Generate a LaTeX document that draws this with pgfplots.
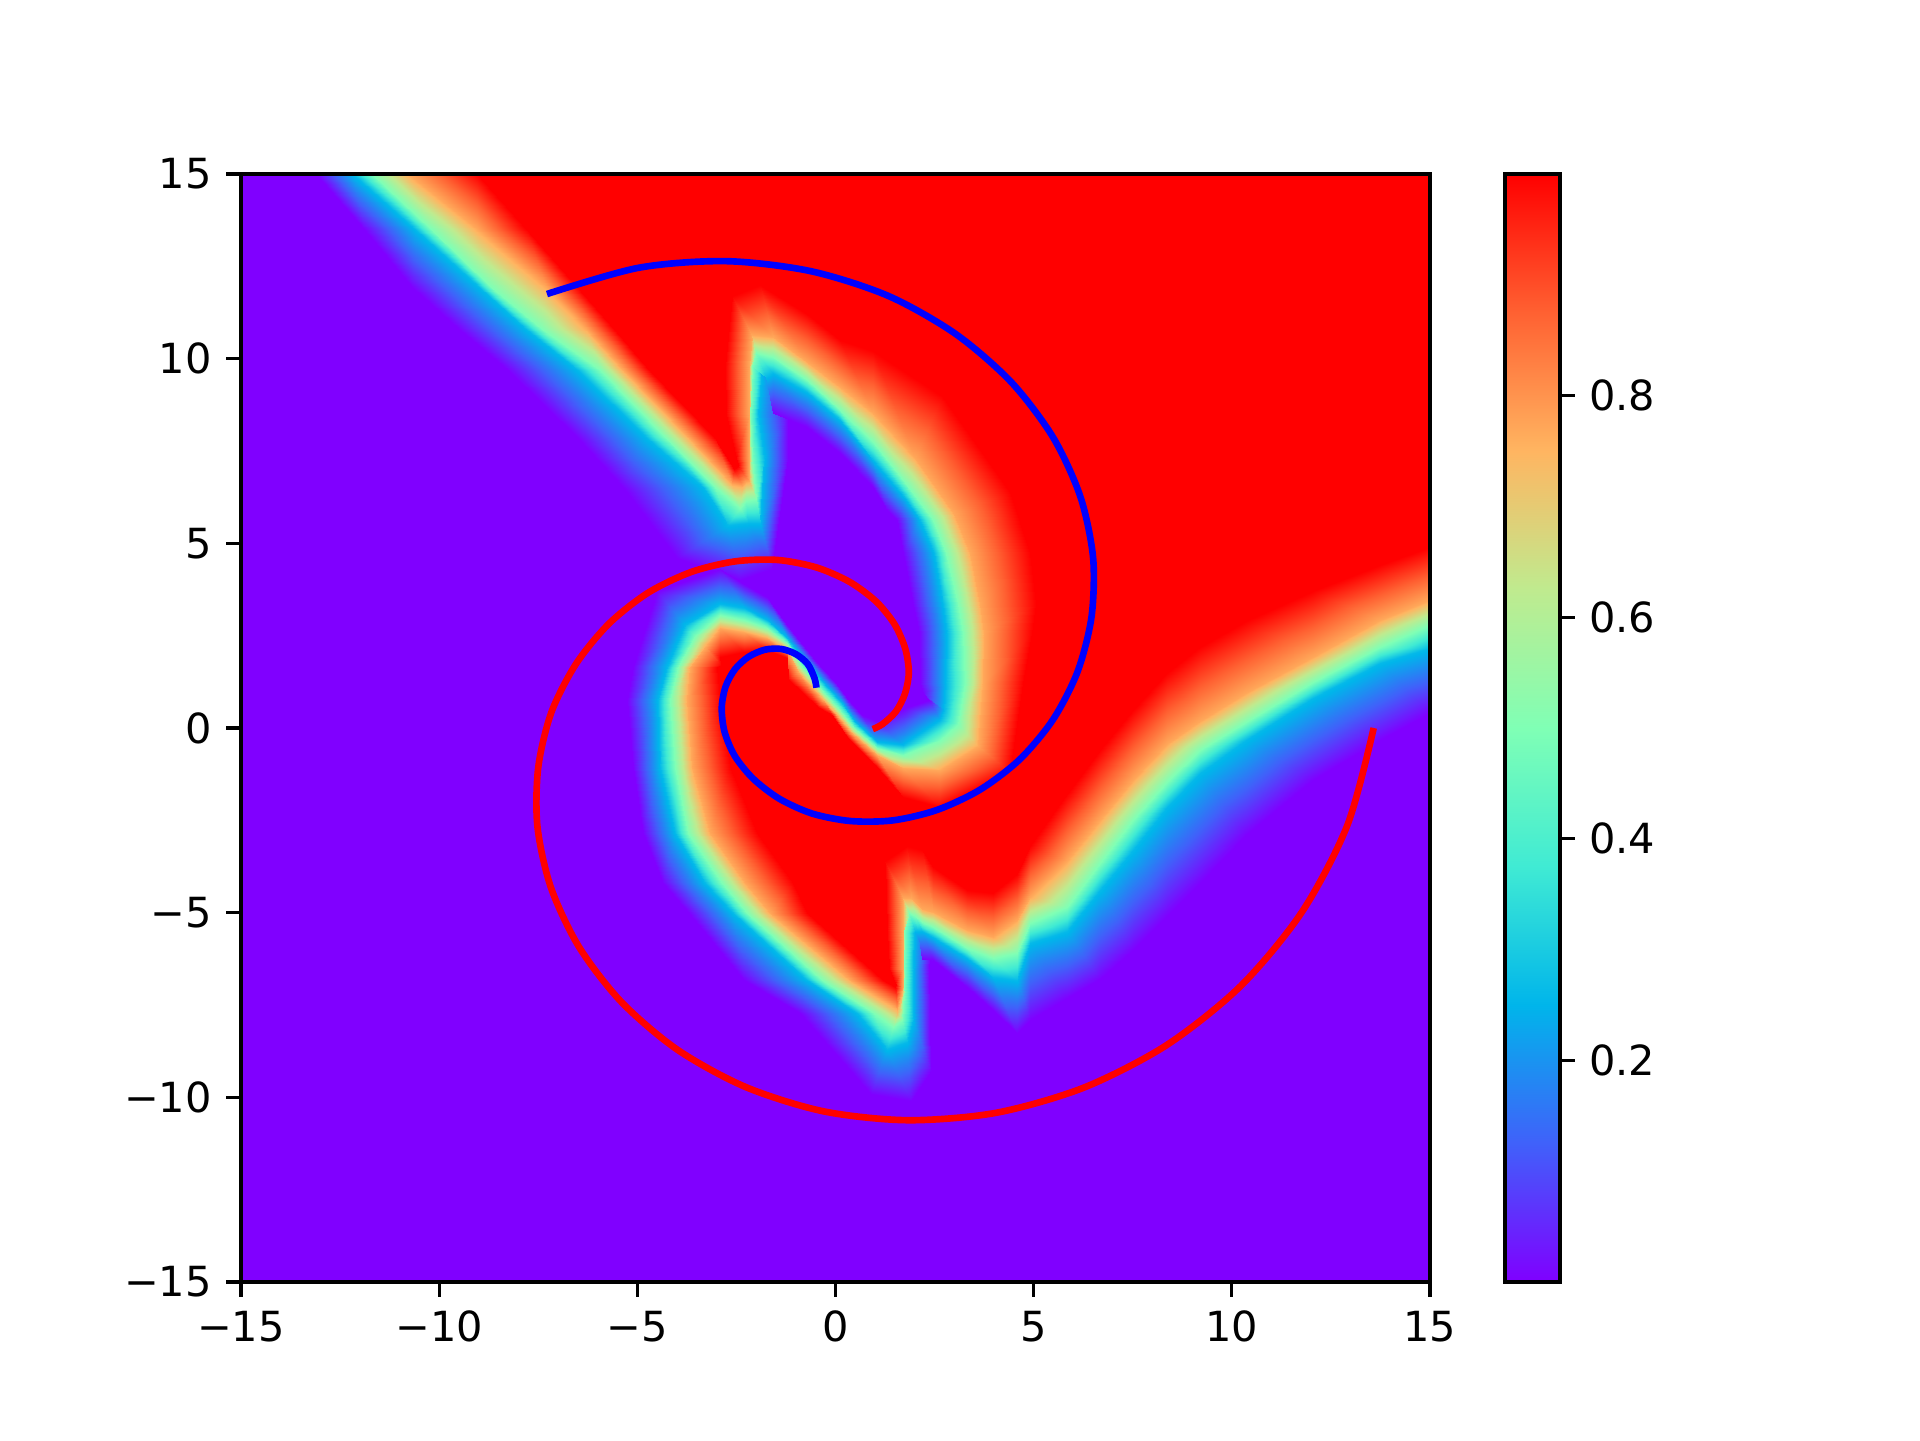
\documentclass[border=0pt]{standalone}
\usepackage{pgfplots}
\pgfplotsset{compat=1.18}
\usepackage{fontspec}
\setmainfont{DejaVu Sans}
\pgfplotsset{colormap={rb}{rgb=(.5,0,1) rgb=(.25,.38,.98) rgb=(0,.71,.92) rgb=(.25,.92,.83) rgb=(.5,1,.71) rgb=(.75,.92,.56) rgb=(1,.71,.38) rgb=(1,.38,.195) rgb=(1,0,0)}}
\definecolor{bgv}{rgb}{.5,0,1}
\begin{document}
\begin{tikzpicture}
\path[use as bounding box] (0,0) rectangle (6.4in,4.8in);
\begin{axis}[
  at={(0.8033in,0.5267in)}, anchor=south west,
  scale only axis, width=3.9633in, height=3.6933in,
  xmin=-15, xmax=15, ymin=-15, ymax=15,
  axis on top, axis background/.style={fill=bgv},
  tick align=outside, xtick pos=bottom, ytick pos=left,
  major tick length=3.5pt, tick style={black,line width=0.75pt}, axis line style={line width=0.75pt},
  xtick={-15,-10,-5,0,5,10,15}, xticklabels={−15,−10,−5,0,5,10,15},
  ytick={-15,-10,-5,0,5,10,15}, yticklabels={−15,−10,−5,0,5,10,15},
  tick label style={font=\fontsize{10}{12}\selectfont},
  point meta min=0, point meta max=1, colormap name=rb,
  colorbar,
  colorbar style={at={(1.0631,1)}, anchor=north west, width=0.1833in,
    ytick={0.2,0.4,0.6,0.8}, yticklabels={0.2,0.4,0.6,0.8},
    ytick pos=right, yticklabel pos=right, tick align=outside, major tick length=3.5pt,
    tick style={black,line width=0.75pt}, axis line style={line width=0.75pt},
    tick label style={font=\fontsize{10}{12}\selectfont}},
]
% red side, bounded by the 0.5 level
\addplot[fill=red,draw=none,forget plot] coordinates {
(-11.7,15)(-10.2,13.5)(-8.7,11.95)(-7.4,10.8)(-5.95,9.69)(-4.31,7.89)(-3.05,6.53)(-2.42,5.95)(-2.25,6.15)(-2,6.2)
(-2.1,7.3)(-2.16,8.5)(-2.1,9.8)(-2,10.15)(-1.57,10.05)(-0.73,9.42)(0.11,8.61)(0.95,7.75)(1.8,6.58)(2.45,5.63)(2.8,4.73)(3.08,3.37)(3.22,2.56)(3.27,1.21)(3.1,0.1)
(2.64,-0.33)(1.71,-0.73)(1.04,-0.55)(0.43,0.04)(0.07,0.53)(-0.24,0.89)(-0.83,1.62)(-1.23,2.29)(-1.73,2.7)(-2.32,2.92)(-2.91,3.06)
(-3.55,2.5)(-3.97,1.66)(-4.17,0.76)(-4.05,-1.05)(-3.71,-2.85)(-2.87,-4.2)(-2.24,-5.02)(-0.35,-6.82)(0.96,-7.73)(1.45,-8.1)(1.68,-7.9)
(1.73,-7.2)(1.73,-6.5)(1.74,-5.5)(1.85,-5)(2,-5.1)(2.18,-5.25)(2.47,-5.38)(3.31,-5.97)(3.98,-6.24)(4.57,-6.1)(4.91,-5.29)(5.83,-4.84)
(6.67,-3.66)(7.51,-2.49)(8.36,-1.45)(9.2,-0.6)(10.37,0.17)(12.05,1.25)(13.74,2.2)(15,2.79)(15,15)};
% band across the boundary: each line is one cross-section, values 0, .26, .5, .77, 1
\addplot[surf,shader=interp,mesh/cols=5,point meta=explicit,forget plot] coordinates {
(-13.1,15)[0] (-12.18,15)[.26] (-11.7,15)[.5] (-10.78,15)[.77] (-9.04,15)[1]
(-11.9,13.5)[0] (-10.62,13.5)[.26] (-10.2,13.5)[.5] (-9.05,13.5)[.77] (-7.8,13.5)[1]
(-10.68,11.95)[0] (-9,11.95)[.26] (-8.7,11.95)[.5] (-7.3,11.95)[.77] (-6.53,11.95)[1]
(-9.5,10.8)[0] (-7.8,10.8)[.26] (-7.4,10.8)[.5] (-6.3,10.8)[.77] (-5.6,10.8)[1]
(-8.27,9.69)[0] (-6.5,9.69)[.26] (-5.95,9.69)[.5] (-5.37,9.69)[.77] (-4.7,9.69)[1]
(-6.53,7.89)[0] (-4.77,7.89)[.26] (-4.31,7.89)[.5] (-3.73,7.89)[.77] (-3.06,7.89)[1]
(-5.37,6.53)[0] (-3.35,6.53)[.26] (-3.05,6.53)[.5] (-2.6,6.6)[.77] (-2.55,7)[1]
(-4,4.6)[0] (-2.7,5.5)[.26] (-2.42,5.95)[.5] (-2.35,6.55)[.77] (-2.5,7.05)[1]
(-2.4,4)[0] (-2.2,5.55)[.26] (-2.25,6.15)[.5] (-2.25,6.65)[.77] (-2.45,7.1)[1]
(-1.6,4.3)[0] (-1.9,5.55)[.26] (-2,6.2)[.5] (-2.18,6.7)[.77] (-2.45,7.15)[1]
(-1.2,7.3)[0] (-1.8,7.3)[.26] (-2.1,7.3)[.5] (-2.17,7.3)[.77] (-2.5,7.3)[1]
(-1.2,8.5)[0] (-1.95,8.5)[.26] (-2.16,8.5)[.5] (-2.18,8.5)[.77] (-2.75,8.5)[1]
(-1.1,9.8)[0] (-1.85,9.8)[.26] (-2.1,9.8)[.5] (-2.17,9.8)[.77] (-2.8,9.8)[1]
(-1,8.8)[0] (-1.75,9.5)[.26] (-2,10.15)[.5] (-2.1,10.65)[.77] (-2.6,11.7)[1]
(-1.57,8.52)[0] (-1.57,9.6)[.26] (-1.57,10.05)[.5] (-1.57,10.6)[.77] (-1.9,12)[1]
(-0.73,8.16)[0] (-0.73,9.11)[.26] (-0.73,9.42)[.5] (-0.73,9.92)[.77] (-0.73,11.2)[1]
(0.11,7.44)[0] (0.11,8.34)[.26] (0.11,8.61)[.5] (0.11,9.24)[.77] (0.11,10.5)[1]
(0.95,6.53)[0] (0.95,7.26)[.26] (0.95,7.75)[.5] (0.95,8.52)[.77] (0.95,10.2)[1]
(1.3,5.9)[0] (1.75,6.22)[.26] (1.8,6.58)[.5] (2,7.3)[.77] (2.7,9)[1]
(1.54,5.63)[0] (2.12,5.63)[.26] (2.45,5.63)[.5] (3,5.8)[.77] (4.4,6.4)[1]
(1.71,4.73)[0] (2.48,4.73)[.26] (2.8,4.73)[.5] (3.39,4.73)[.77] (4.91,4.73)[1]
(1.96,3.37)[0] (2.72,3.37)[.26] (3.08,3.37)[.5] (3.65,3.37)[.77] (5.05,3.37)[1]
(2.1,2.56)[0] (2.82,2.56)[.26] (3.22,2.56)[.5] (3.75,2.56)[.77] (4.95,2.56)[1]
(2.13,1.21)[0] (2.8,1.21)[.26] (3.27,1.21)[.5] (3.73,1.21)[.77] (4.74,1.21)[1]
(2.2,0.95)[0] (2.75,0.5)[.26] (3.1,0.1)[.5] (3.6,-0.5)[.77] (4.4,-1.2)[1]
(2.35,0.75)[0] (2.64,0.22)[.26] (2.64,-0.33)[.5] (2.64,-1.14)[.77] (2.64,-2.13)[1]
(1.75,0.55)[0] (1.71,-0.46)[.26] (1.71,-0.73)[.5] (1.71,-1.09)[.77] (1.71,-1.86)[1]
(1.04,0.2)[0] (1.04,-0.37)[.26] (1.04,-0.55)[.5] (1.04,-0.73)[.77] (1.04,-1.05)[1]
(0.66,0.35)[0] (0.49,0.17)[.26] (0.43,0.04)[.5] (0.38,-0.1)[.77] (0.28,-0.24)[1]
(0.28,0.8)[0] (0.16,0.67)[.26] (0.07,0.53)[.5] (-0.01,0.4)[.77] (-0.1,0.35)[1]
(-0.01,1.25)[0] (-0.18,1.07)[.26] (-0.24,0.89)[.5] (-0.31,0.76)[.77] (-0.43,0.58)[1]
(-0.52,1.84)[0] (-0.73,1.75)[.26] (-0.83,1.62)[.5] (-0.94,1.52)[.77] (-1.19,1.34)[1]
(-1.23,2.79)[0] (-1.23,2.43)[.26] (-1.23,2.29)[.5] (-1.23,2.11)[.77] (-1.23,1.89)[1]
(-1.73,3.55)[0] (-1.73,2.92)[.26] (-1.73,2.7)[.5] (-1.73,2.43)[.77] (-1.73,2.11)[1]
(-2.32,3.9)[0] (-2.32,3.24)[.26] (-2.32,2.92)[.5] (-2.32,2.61)[.77] (-2.32,2.07)[1]
(-2.91,4.3)[0] (-2.91,3.37)[.26] (-2.91,3.06)[.5] (-2.91,2.7)[.77] (-2.91,1.93)[1]
(-4.5,3.7)[0] (-3.8,2.8)[.26] (-3.55,2.5)[.5] (-3.3,2.2)[.77] (-2.9,1.7)[1]
(-5.1,1.66)[0] (-4.26,1.66)[.26] (-3.97,1.66)[.5] (-3.67,1.66)[.77] (-3,1.66)[1]
(-5.27,0.76)[0] (-4.47,0.76)[.26] (-4.17,0.76)[.5] (-3.75,0.76)[.77] (-2.91,0.76)[1]
(-5.1,-1.05)[0] (-4.43,-1.05)[.26] (-4.05,-1.05)[.5] (-3.63,-1.05)[.77] (-2.66,-1.05)[1]
(-4.85,-2.85)[0] (-4.05,-2.85)[.26] (-3.71,-2.85)[.5] (-3.17,-2.85)[.77] (-1.99,-2.85)[1]
(-4.34,-4.2)[0] (-3.29,-4.2)[.26] (-2.87,-4.2)[.5] (-2.28,-4.2)[.77] (-1.06,-4.2)[1]
(-3.7,-5.02)[0] (-2.58,-5.02)[.26] (-2.24,-5.02)[.5] (-1.65,-5.02)[.77] (-0.73,-5.02)[1]
(-2.3,-6.82)[0] (-0.73,-6.82)[.26] (-0.35,-6.82)[.5] (0.37,-6.82)[.77] (1.21,-6.82)[1]
(-0.9,-7.73)[0] (0.54,-7.73)[.26] (0.96,-7.73)[.5] (1.55,-7.73)[.72] (1.5,-7)[1]
(0.9,-9.9)[0] (1.3,-8.7)[.26] (1.45,-8.1)[.5] (1.56,-7.75)[.72] (1.52,-7)[1]
(1.9,-10.1)[0] (1.8,-8.5)[.26] (1.68,-7.9)[.5] (1.62,-7.5)[.72] (1.52,-6.95)[1]
(2.4,-9.3)[0] (1.95,-7.9)[.26] (1.73,-7.2)[.5] (1.7,-7)[.77] (1.5,-6.9)[1]
(2.35,-6.5)[0] (1.95,-6.5)[.26] (1.73,-6.5)[.5] (1.7,-6.5)[.77] (1.35,-6.5)[1]
(2.45,-5.5)[0] (1.98,-5.5)[.26] (1.74,-5.5)[.5] (1.7,-5.5)[.77] (1.3,-5.5)[1]
(2.45,-6.3)[0] (2,-5.5)[.26] (1.85,-5)[.5] (1.7,-4.6)[.77] (1.25,-3.6)[1]
(2.3,-6.25)[0] (2.08,-5.5)[.26] (2,-5.1)[.5] (1.9,-4.6)[.77] (1.8,-3.2)[1]
(2.18,-6.25)[0] (2.18,-5.5)[.26] (2.18,-5.25)[.5] (2.18,-4.9)[.77] (2.18,-3.3)[1]
(2.47,-6.28)[0] (2.47,-5.65)[.26] (2.47,-5.38)[.5] (2.47,-4.97)[.77] (2.47,-3.76)[1]
(3.31,-7)[0] (3.31,-6.24)[.26] (3.31,-5.97)[.5] (3.31,-5.47)[.77] (3.31,-4.39)[1]
(3.98,-7.64)[0] (3.98,-6.73)[.26] (3.98,-6.24)[.5] (3.98,-5.65)[.77] (3.98,-4.48)[1]
(4.57,-8.27)[0] (4.57,-6.83)[.26] (4.57,-6.1)[.5] (4.57,-5.2)[.77] (4.57,-3.94)[1]
(4.91,-7.9)[0] (4.91,-5.83)[.26] (4.91,-5.29)[.5] (4.91,-4.57)[.77] (4.91,-3.2)[1]
(5.83,-7.3)[0] (5.83,-5.5)[.26] (5.83,-4.84)[.5] (5.83,-3.6)[.77] (5.83,-1.8)[1]
(6.67,-6.8)[0] (6.67,-4.39)[.26] (6.67,-3.66)[.5] (6.67,-2.49)[.77] (6.67,-0.6)[1]
(7.51,-6)[0] (7.51,-3.3)[.26] (7.51,-2.49)[.5] (7.51,-1.41)[.77] (7.51,0.5)[1]
(8.36,-5.1)[0] (8.36,-2.13)[.26] (8.36,-1.45)[.5] (8.36,-0.42)[.77] (8.36,1.5)[1]
(9.2,-4.2)[0] (9.2,-1.23)[.26] (9.2,-0.6)[.5] (9.2,0.2)[.77] (9.2,2.2)[1]
(10.37,-2.9)[0] (10.37,-0.33)[.26] (10.37,0.17)[.5] (10.37,0.94)[.77] (10.37,2.9)[1]
(12.05,-1.41)[0] (12.05,0.8)[.26] (12.05,1.25)[.5] (12.05,1.93)[.77] (12.05,3.7)[1]
(13.74,-0.33)[0] (13.74,1.75)[.26] (13.74,2.2)[.5] (13.74,2.92)[.77] (13.74,4.4)[1]
(15,0.4)[0] (15,2.16)[.26] (15,2.79)[.5] (15,3.47)[.77] (15,4.9)[1]
};
% spirals
\addplot[blue,line width=1.6pt,smooth,forget plot] coordinates {
(-7.28,11.75)(-4.97,12.46)(-2.76,12.64)(-0.63,12.37)(1.33,11.7)(3.03,10.67)(4.43,9.37)(5.49,7.87)(6.18,6.26)(6.5,4.61)(6.46,3.01)(6.11,1.53)(5.49,0.23)(4.65,-0.85)(3.65,-1.67)(2.56,-2.22)(1.46,-2.5)(0.39,-2.52)(-0.58,-2.32)(-1.41,-1.92)(-2.07,-1.38)(-2.54,-0.76)(-2.8,-0.1)(-2.87,0.55)(-2.77,1.13)(-2.53,1.6)(-2.19,1.93)(-1.78,2.12)(-1.37,2.14)(-1,2)(-0.7,1.73)(-0.53,1.35)(-0.48,1.09)};
\addplot[red,line width=1.6pt,smooth,forget plot] coordinates {
(13.58,0)(12.92,-2.62)(11.77,-4.98)(10.22,-6.99)(8.35,-8.59)(6.26,-9.74)(4.05,-10.42)(1.83,-10.62)(-0.3,-10.38)(-2.27,-9.72)(-3.99,-8.71)(-5.4,-7.42)(-6.47,-5.93)(-7.18,-4.32)(-7.52,-2.67)(-7.5,-1.07)(-7.17,0.42)(-6.55,1.73)(-5.72,2.82)(-4.73,3.66)(-3.65,4.22)(-2.54,4.51)(-1.47,4.55)(-0.49,4.35)(0.35,3.96)(1.02,3.43)(1.49,2.81)(1.76,2.15)(1.85,1.5)(1.75,0.92)(1.52,0.44)(1.18,0.1)(0.94,-0.03)};
\end{axis}
\end{tikzpicture}
\end{document}
